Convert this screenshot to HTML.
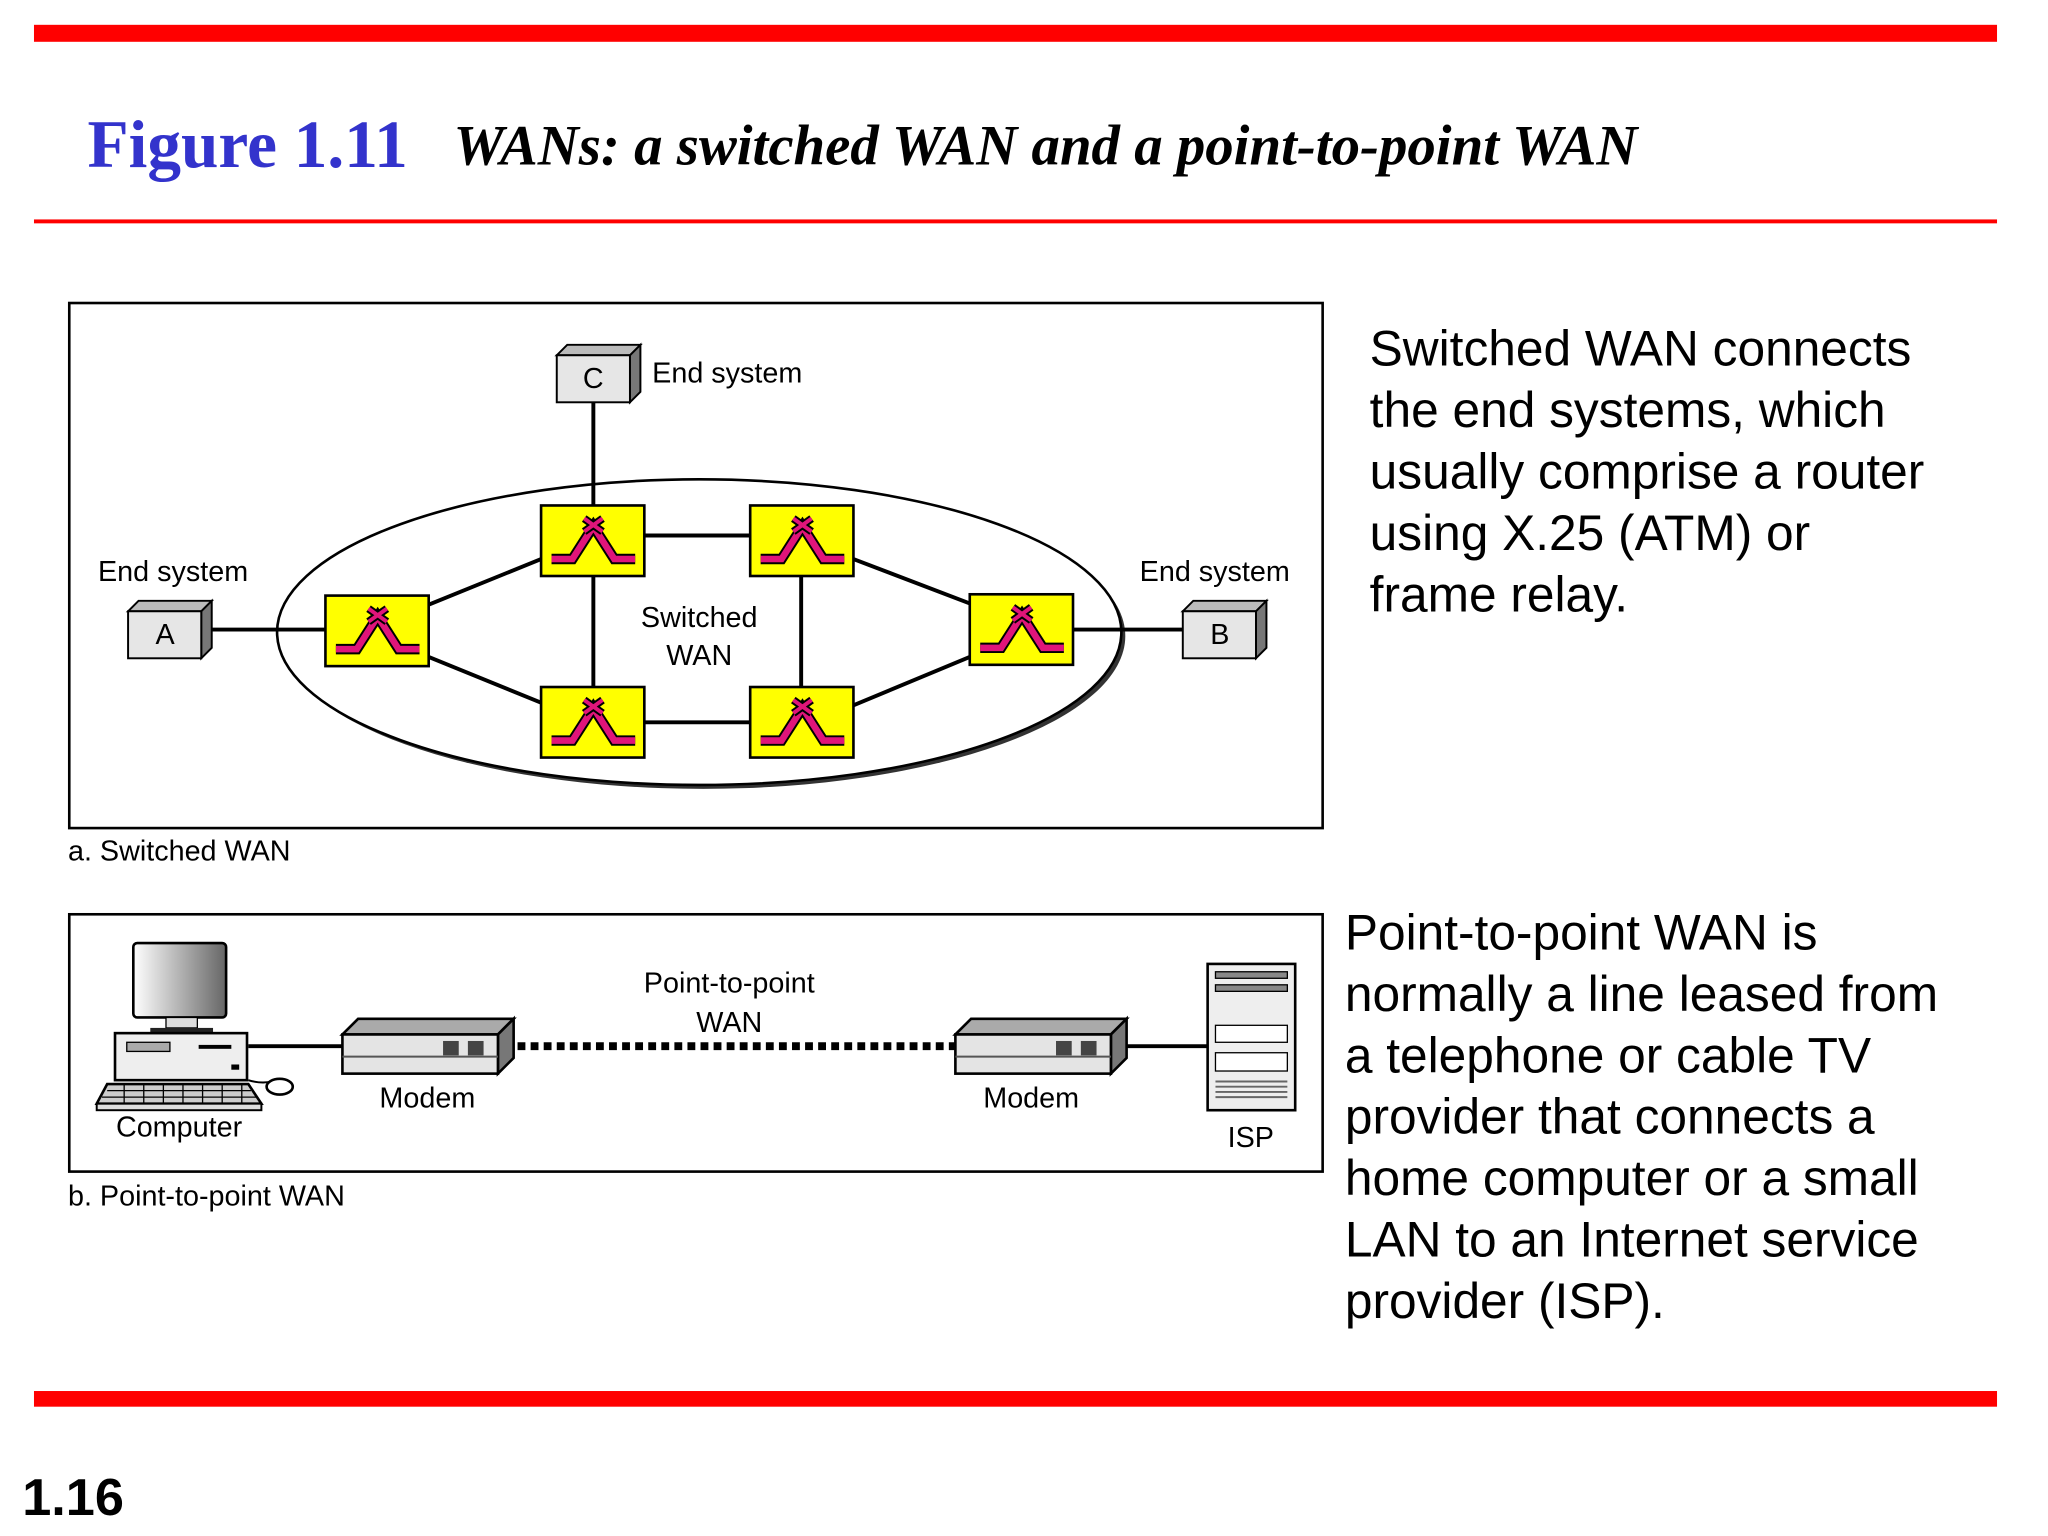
<!DOCTYPE html>
<html><head><meta charset="utf-8"><style>
html,body{margin:0;padding:0;background:#fff;}
svg{display:block;}
</style></head><body>
<svg width="2048" height="1536" viewBox="0 0 1567 1176" preserveAspectRatio="none" xmlns="http://www.w3.org/2000/svg">
<defs>
<linearGradient id="scr" x1="0" x2="1"><stop offset="0" stop-color="#fff"/><stop offset="1" stop-color="#666"/></linearGradient>
<g id="sw">
<rect x="0" y="0" width="79" height="54" fill="#ffff00" stroke="#000" stroke-width="2"/>
<polyline points="8,41 24,41 40,16 56,41 72,41" fill="none" stroke="#000" stroke-width="8" stroke-linejoin="miter"/>
<polyline points="8,41 24,41 40,16 56,41 72,41" fill="none" stroke="#e0157a" stroke-width="5"/>
<path d="M33,10 L47,20 M47,10 L33,20" stroke="#000" stroke-width="6"/>
<path d="M33,10 L47,20 M47,10 L33,20" stroke="#e0157a" stroke-width="3"/>
</g>
<g id="box">
<polygon points="0,8 8,0 64,0 56,8" fill="#bbb" stroke="#000" stroke-width="1.5"/>
<polygon points="56,8 64,0 64,36 56,44" fill="#777" stroke="#000" stroke-width="1.5"/>
<rect x="0" y="8" width="56" height="36" fill="#e6e6e6" stroke="#000" stroke-width="1.5"/>
</g>
<g id="modem">
<polygon points="0,12 12,0 131,0 119,12" fill="#aaa" stroke="#000" stroke-width="2"/>
<polygon points="119,12 131,0 131,30 119,42" fill="#777" stroke="#000" stroke-width="2"/>
<rect x="0" y="12" width="119" height="30" fill="#e4e4e4" stroke="#000" stroke-width="2"/>
<line x1="0" y1="29" x2="119" y2="29" stroke="#555" stroke-width="1.5"/>
<rect x="77" y="17" width="12" height="11" fill="#444"/>
<rect x="96" y="17" width="12" height="11" fill="#444"/>
</g>
</defs>

<rect x="26" y="19" width="1502" height="13" fill="#ff0000"/>
<text x="67" y="128" font-family="Liberation Serif, serif" font-weight="bold" font-size="51.5" fill="#3333cc">Figure 1.11</text>
<text x="347" y="126" font-family="Liberation Serif, serif" font-weight="bold" font-style="italic" font-size="43.5" fill="#000">WANs: a switched WAN and a point-to-point WAN</text>
<rect x="26" y="168" width="1502" height="3" fill="#ff0000"/>

<rect x="53" y="232" width="959" height="402" fill="none" stroke="#000" stroke-width="2"/>
<ellipse cx="538" cy="487" rx="323" ry="117" fill="#333"/>
<ellipse cx="535" cy="484" rx="323" ry="117" fill="#fff" stroke="#000" stroke-width="2"/>

<g stroke="#000" stroke-width="3">
<line x1="454" y1="308" x2="454" y2="387"/>
<line x1="162" y1="482" x2="249" y2="482"/>
<line x1="821" y1="482" x2="905" y2="482"/>
<line x1="328" y1="463" x2="414" y2="428"/>
<line x1="328" y1="503" x2="414" y2="538"/>
<line x1="493" y1="410" x2="574" y2="410"/>
<line x1="493" y1="553" x2="574" y2="553"/>
<line x1="454" y1="440" x2="454" y2="526"/>
<line x1="613" y1="440" x2="613" y2="526"/>
<line x1="653" y1="428" x2="742" y2="462"/>
<line x1="653" y1="540" x2="742" y2="503"/>
</g>
<use href="#sw" x="414" y="387"/>
<use href="#sw" x="574" y="387"/>
<use href="#sw" x="249" y="456"/>
<use href="#sw" x="742" y="455"/>
<use href="#sw" x="414" y="526"/>
<use href="#sw" x="574" y="526"/>

<use href="#box" x="426" y="264"/>
<use href="#box" x="98" y="460"/>
<use href="#box" x="905" y="460"/>
<g font-family="Liberation Sans, sans-serif" font-size="22" fill="#000">
<text x="446" y="297">C</text>
<text x="119" y="493">A</text>
<text x="926" y="493">B</text>
<text x="499" y="293">End system</text>
<text x="75" y="445">End system</text>
<text x="872" y="445">End system</text>
<text x="535" y="480" text-anchor="middle">Switched</text>
<text x="535" y="509" text-anchor="middle">WAN</text>
<text x="52" y="659">a. Switched WAN</text>
</g>

<rect x="53" y="700" width="959" height="197" fill="none" stroke="#000" stroke-width="2"/>
<line x1="190" y1="801" x2="262" y2="801" stroke="#000" stroke-width="3"/>
<line x1="862" y1="801" x2="924" y2="801" stroke="#000" stroke-width="3"/>
<line x1="396" y1="801" x2="731" y2="801" stroke="#000" stroke-width="6" stroke-dasharray="6,4"/>
<use href="#modem" x="262" y="780"/>
<use href="#modem" x="731" y="780"/>

<rect x="102" y="722" width="71" height="57" rx="3" fill="url(#scr)" stroke="#000" stroke-width="2"/>
<rect x="127" y="779" width="24" height="8" fill="#ddd" stroke="#000"/>
<rect x="115" y="787" width="48" height="4" fill="#222"/>
<rect x="88" y="791" width="101" height="36" fill="#eee" stroke="#000" stroke-width="2"/>
<rect x="97" y="798" width="33" height="7" fill="#aaa" stroke="#000"/>
<rect x="152" y="800" width="25" height="3" fill="#000"/>
<rect x="177" y="815" width="6" height="4" fill="#000"/>
<polygon points="82,830 190,830 200,845 74,845" fill="#ccc" stroke="#000" stroke-width="2"/>
<path d="M82,835 h110 M78,840 h118 M95,830 v15 M110,830 v15 M125,830 v15 M140,830 v15 M155,830 v15 M170,830 v15 M185,830 v15" stroke="#000" stroke-width="1"/>
<rect x="74" y="845" width="126" height="5" fill="#ddd" stroke="#000" stroke-width="1.5"/>
<path d="M190,827 Q200,830 208,828" fill="none" stroke="#000" stroke-width="1.5"/>
<ellipse cx="214" cy="832" rx="10" ry="6" fill="#fff" stroke="#000" stroke-width="2"/>

<rect x="924" y="738" width="67" height="112" fill="#eee" stroke="#000" stroke-width="2"/>
<rect x="930" y="744" width="55" height="5" fill="#888" stroke="#000"/>
<rect x="930" y="754" width="55" height="5" fill="#888" stroke="#000"/>
<rect x="930" y="785" width="55" height="13" fill="#fff" stroke="#000"/>
<rect x="930" y="806" width="55" height="14" fill="#fff" stroke="#000"/>
<path d="M930,828 h55 M930,832 h55 M930,836 h55 M930,840 h55" stroke="#666" stroke-width="1.5"/>

<g font-family="Liberation Sans, sans-serif" font-size="22" fill="#000">
<text x="558" y="760" text-anchor="middle">Point-to-point</text>
<text x="558" y="790" text-anchor="middle">WAN</text>
<text x="327" y="848" text-anchor="middle">Modem</text>
<text x="789" y="848" text-anchor="middle">Modem</text>
<text x="137" y="870" text-anchor="middle">Computer</text>
<text x="957" y="878" text-anchor="middle">ISP</text>
<text x="52" y="923">b. Point-to-point WAN</text>
</g>

<g font-family="Liberation Sans, Arial, sans-serif" font-size="38" fill="#000">
<text x="1048" y="280">Switched WAN connects</text>
<text x="1048" y="327">the end systems, which</text>
<text x="1048" y="374">usually comprise a router</text>
<text x="1048" y="421">using X.25 (ATM) or</text>
<text x="1048" y="468">frame relay.</text>
<text x="1029" y="727">Point-to-point WAN is</text>
<text x="1029" y="774">normally a line leased from</text>
<text x="1029" y="821">a telephone or cable TV</text>
<text x="1029" y="868">provider that connects a</text>
<text x="1029" y="915">home computer or a small</text>
<text x="1029" y="962">LAN to an Internet service</text>
<text x="1029" y="1009">provider (ISP).</text>
</g>

<rect x="26" y="1065" width="1502" height="12" fill="#ff0000"/>
<text x="17" y="1160" font-family="Liberation Sans, sans-serif" font-weight="bold" font-size="40" fill="#000">1.16</text>
</svg>
</body></html>
